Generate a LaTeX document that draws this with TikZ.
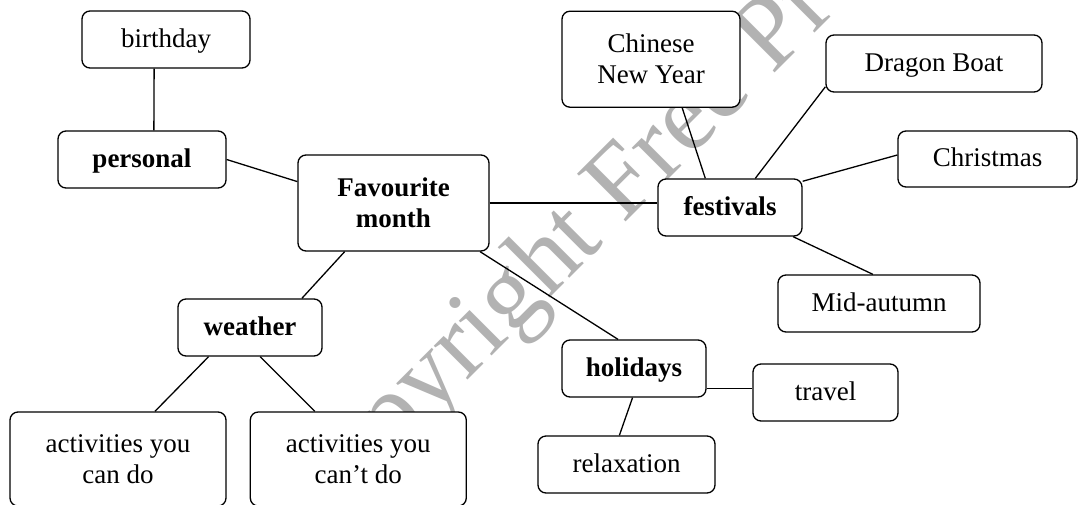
\documentclass[tikz,border=0pt]{standalone}
\usepackage{fontspec}
\setmainfont{Liberation Serif}
\usetikzlibrary{calc}
\tikzset{
  box/.style={draw, line width=1.3pt, rounded corners=8pt, fill=white, inner sep=0pt,
    align=center, font=\fontsize{27}{31}\selectfont},
  one/.style={text height=19pt, text depth=4pt},
  bb/.style={font=\fontsize{27}{31}\selectfont\bfseries},
  link/.style={line width=1.3pt},
  wm/.style={text=black!30, font=\fontsize{104}{110}\selectfont, inner sep=0pt}
}
\begin{document}
\begin{tikzpicture}[x=1pt,y=-1pt]
\clip (0,0) rectangle (1079,504);
\fill[white] (0,0) rectangle (1079,504);
% watermark
\node[wm, rotate=45, anchor=base west] (wmark) at (307,541) {Copyright Free Pr};
% nodes
\node[box,one,minimum width=168pt,minimum height=57pt] (birthday) at (166,39.5) {birthday};
\node[box,one,bb,minimum width=168pt,minimum height=57pt] (personal) at (142,159.5) {personal};
\node[box,bb,minimum width=191pt,minimum height=96pt] (fav) at (393.5,203) {Favourite\\month};
\node[box,one,bb,minimum width=144pt,minimum height=57pt] (weather) at (250,327.5) {weather};
\node[box,minimum width=216pt,minimum height=94pt] (cando) at (118,459) {activities you\\can do};
\node[box,minimum width=216pt,minimum height=94pt] (cantdo) at (358.3,459) {activities you\\can’t do};
\node[box,one,bb,minimum width=144pt,minimum height=57pt] (holidays) at (634,368.5) {holidays};
\node[box,one,minimum width=145pt,minimum height=57pt] (travel) at (825.5,392.5) {travel};
\node[box,one,minimum width=177pt,minimum height=57pt] (relax) at (626.5,464.5) {relaxation};
\node[box,one,minimum width=202pt,minimum height=57pt] (mid) at (879,303.5) {Mid-autumn};
\node[box,one,bb,minimum width=144pt,minimum height=57pt] (fest) at (730,207.5) {festivals};
\node[box,one,minimum width=179pt,minimum height=56pt] (xmas) at (987.5,159) {Christmas};
\node[box,one,minimum width=216pt,minimum height=57pt] (dragon) at (934,63.5) {Dragon Boat};
\node[box,minimum width=178pt,minimum height=96pt] (cny) at (651,59.2) {Chinese\\New Year};
% connectors
\draw[link] ($(birthday.south west)!0.43!(birthday.south east)$) -- ($(personal.north west)!0.57!(personal.north east)$);
\draw[link] (personal.east) -- ($(fav.north west)!0.28!(fav.south west)$);
\draw[link] (fav.east) -- (fav.east -| fest.west);
\draw[link] ($(fav.south west)!0.246!(fav.south east)$) -- ($(weather.north west)!0.857!(weather.north east)$);
\draw[link] ($(fav.south west)!0.95!(fav.south east)$) -- ($(holidays.north west)!0.39!(holidays.north east)$);
\draw[link] ($(weather.south west)!0.215!(weather.south east)$) -- ($(cando.north west)!0.67!(cando.north east)$);
\draw[link] ($(weather.south west)!0.57!(weather.south east)$) -- ($(cantdo.north west)!0.30!(cantdo.north east)$);
\coordinate (ht) at ($(holidays.north east)!0.84!(holidays.south east)$);
\draw[link] (ht) -- (ht -| travel.west);
\draw[link] ($(holidays.south west)!0.49!(holidays.south east)$) -- ($(relax.north west)!0.46!(relax.north east)$);
\draw[link] ($(fest.north west)!0.33!(fest.north east)$) -- ($(cny.south west)!0.674!(cny.south east)$);
\draw[link] ($(fest.north west)!0.674!(fest.north east)$) -- ($(dragon.north west)!0.9!(dragon.south west)$);
\draw[link] ($(fest.north east)!0.05!(fest.south east)$) -- ($(xmas.north west)!0.43!(xmas.south west)$);
\draw[link] ($(fest.south west)!0.934!(fest.south east)$) -- ($(mid.north west)!0.47!(mid.north east)$);
\end{tikzpicture}
\end{document}
